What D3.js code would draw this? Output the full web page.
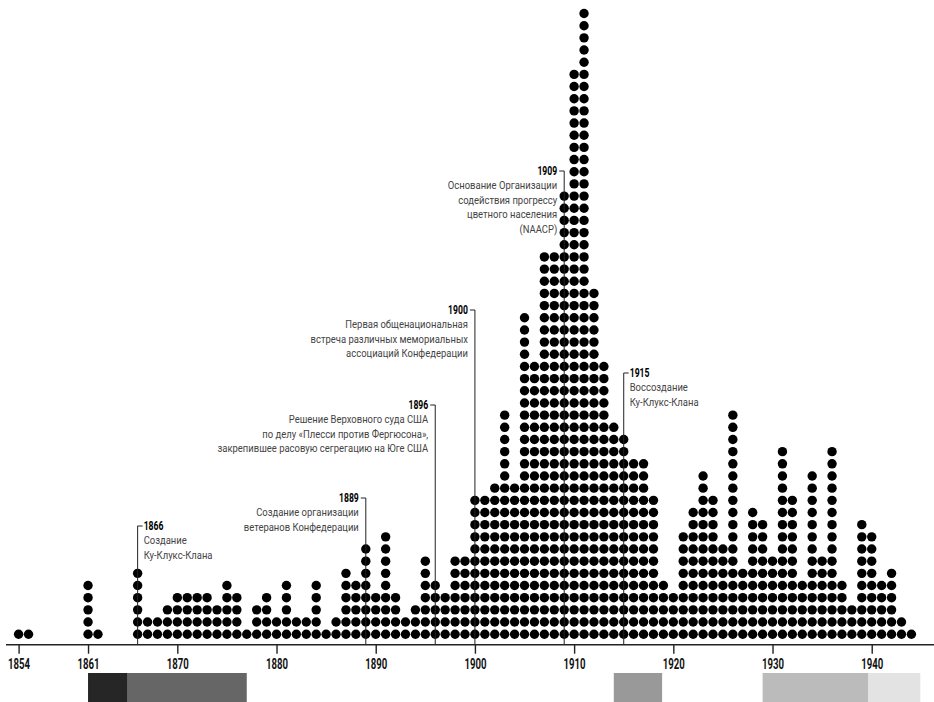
<!DOCTYPE html>
<html>
<head>
<meta charset="utf-8">
<script src="https://cdn.jsdelivr.net/npm/d3@7"></script>
<style>
    body { margin: 0; background: #fff; }
    svg { display: block; font-family: Roboto, 'Liberation Sans', sans-serif; }
</style>
</head>
<body>
<svg id="chart" width="934" height="702"></svg>
<script>
// one column of dots per year, 1854 .. 1944
const firstYear = 1854;
const lastYear = 1944;
const counts = [
    1, 1, 0, 0, 0, 0, 0, 5, 1, 0,          // 1854-1863
    0, 0, 6, 2, 2, 3, 4, 4, 4, 4,          // 1864-1873
    3, 5, 4, 1, 3, 4, 2, 5, 2, 2,          // 1874-1883
    5, 1, 2, 6, 5, 8, 4, 9, 4, 2,          // 1884-1893
    3, 7, 5, 4, 7, 7, 12, 12, 13, 19,      // 1894-1903
    13, 27, 23, 32, 32, 37, 47, 52, 29, 23, // 1904-1913
    18, 17, 15, 15, 12, 5, 4, 9, 11, 14,   // 1914-1923
    12, 8, 19, 6, 11, 10, 7, 16, 12, 5,    // 1924-1933
    14, 7, 16, 5, 3, 10, 9, 5, 6, 2,       // 1934-1943
    1                                      // 1944
];
const tickYears = [1854, 1861, 1870, 1880, 1890, 1900, 1910, 1920, 1930, 1940];

const eventYears = [1866, 1889, 1896, 1900, 1909, 1915];
const eventTexts = [
    ['Создание', 'Ку-Клукс-Клана'],
    ['Создание организации', 'ветеранов Конфедерации'],
    ['Решение Верховного суда США', 'по делу «Плесси против Фергюсона»,', 'закрепившее расовую сегрегацию на Юге США'],
    ['Первая общенациональная', 'встреча различных мемориальных', 'ассоциаций Конфедерации'],
    ['Основание Организации', 'содействия прогрессу', 'цветного населения', '(NAACP)'],
    ['Воссоздание', 'Ку-Клукс-Клана']
];

// shaded periods under the axis
const periodStarts = [1861, 1865, 1914, 1929, 1939.67];
const periodEnds = [1865, 1877, 1918.87, 1939.67, 1944.9];

// layout
const W = 934;
const axisY = 644.7;
const rowStep = 12.17;
const periodColors = ['#262626', '#666666', '#999999', '#bbbbbb', '#e3e3e3'];
const eventLayout = {
    1866: { side: 'right', y: 530 },
    1889: { side: 'left', y: 502 },
    1896: { side: 'left', y: 409 },
    1900: { side: 'left', y: 314 },
    1909: { side: 'left', y: 175 },
    1915: { side: 'right', y: 377 }
};

const svg = d3.select('#chart');
const x = d3.scaleLinear().domain([firstYear, lastYear]).range([18.6, 911.4]);
const y = d3.scaleLinear().domain([0, 51]).range([634.2, 634.2 - 51 * rowStep]);

// dots
const dots = counts.flatMap((n, i) => d3.range(n).map(k => ({ year: firstYear + i, k })));
svg.append('g').attr('class', 'dots')
    .selectAll('circle')
    .data(dots)
    .join('circle')
    .attr('cx', d => x(d.year))
    .attr('cy', d => y(d.k))
    .attr('r', 4.7)
    .attr('fill', '#000');

// axis
const axis = d3.axisBottom(x).tickValues(tickYears).tickFormat(d3.format('d')).tickSize(9);
const ax = svg.append('g').attr('transform', `translate(0,${axisY})`).call(axis);
ax.attr('font-family', null).attr('font-size', null);
ax.select('.domain').remove();
ax.append('line').attr('x1', 6).attr('x2', W).attr('stroke', '#222').attr('stroke-width', 1.6);
ax.selectAll('.tick line').attr('stroke', '#222').attr('stroke-width', 1.4);
ax.selectAll('.tick text')
    .attr('y', 24.3)
    .attr('dy', 0)
    .attr('fill', '#111')
    .attr('transform', 'scale(0.64,1)')
    .style('font-size', '15px')
    .style('font-weight', 700);

// period bars
svg.append('g').selectAll('rect')
    .data(periodStarts)
    .join('rect')
    .attr('x', d => x(d))
    .attr('y', 673)
    .attr('width', (d, i) => x(periodEnds[i]) - x(d))
    .attr('height', 29)
    .attr('fill', (d, i) => periodColors[i]);

// event annotations
svg.append('g').selectAll('g')
    .data(eventYears)
    .join('g')
    .each(function (yr, i) {
        const g = d3.select(this);
        const L = eventLayout[yr];
        const lx = x(yr);
        const right = L.side === 'right';
        const stubY = L.y - 4;
        g.append('line').attr('x1', lx).attr('x2', lx).attr('y1', stubY).attr('y2', axisY)
            .attr('stroke', '#222').attr('stroke-width', 1);
        g.append('line').attr('x1', lx).attr('x2', lx + (right ? 5 : -5)).attr('y1', stubY).attr('y2', stubY)
            .attr('stroke', '#222').attr('stroke-width', 1);
        const tx = lx + (right ? 6 : -7);
        const anchor = right ? 'start' : 'end';
        g.append('text')
            .attr('transform', `translate(${tx},${L.y}) scale(0.72,1)`)
            .attr('text-anchor', anchor)
            .attr('fill', '#000')
            .style('font-size', '12px')
            .style('font-weight', 700)
            .text(yr);
        eventTexts[i].forEach((line, j) => {
            g.append('text')
                .attr('transform', `translate(${tx},${L.y + 14 + j * 14.5}) scale(0.86,1)`)
                .attr('text-anchor', anchor)
                .attr('fill', '#444')
                .style('font-size', '11px')
                .text(line);
        });
    });
</script>
</body>
</html>
